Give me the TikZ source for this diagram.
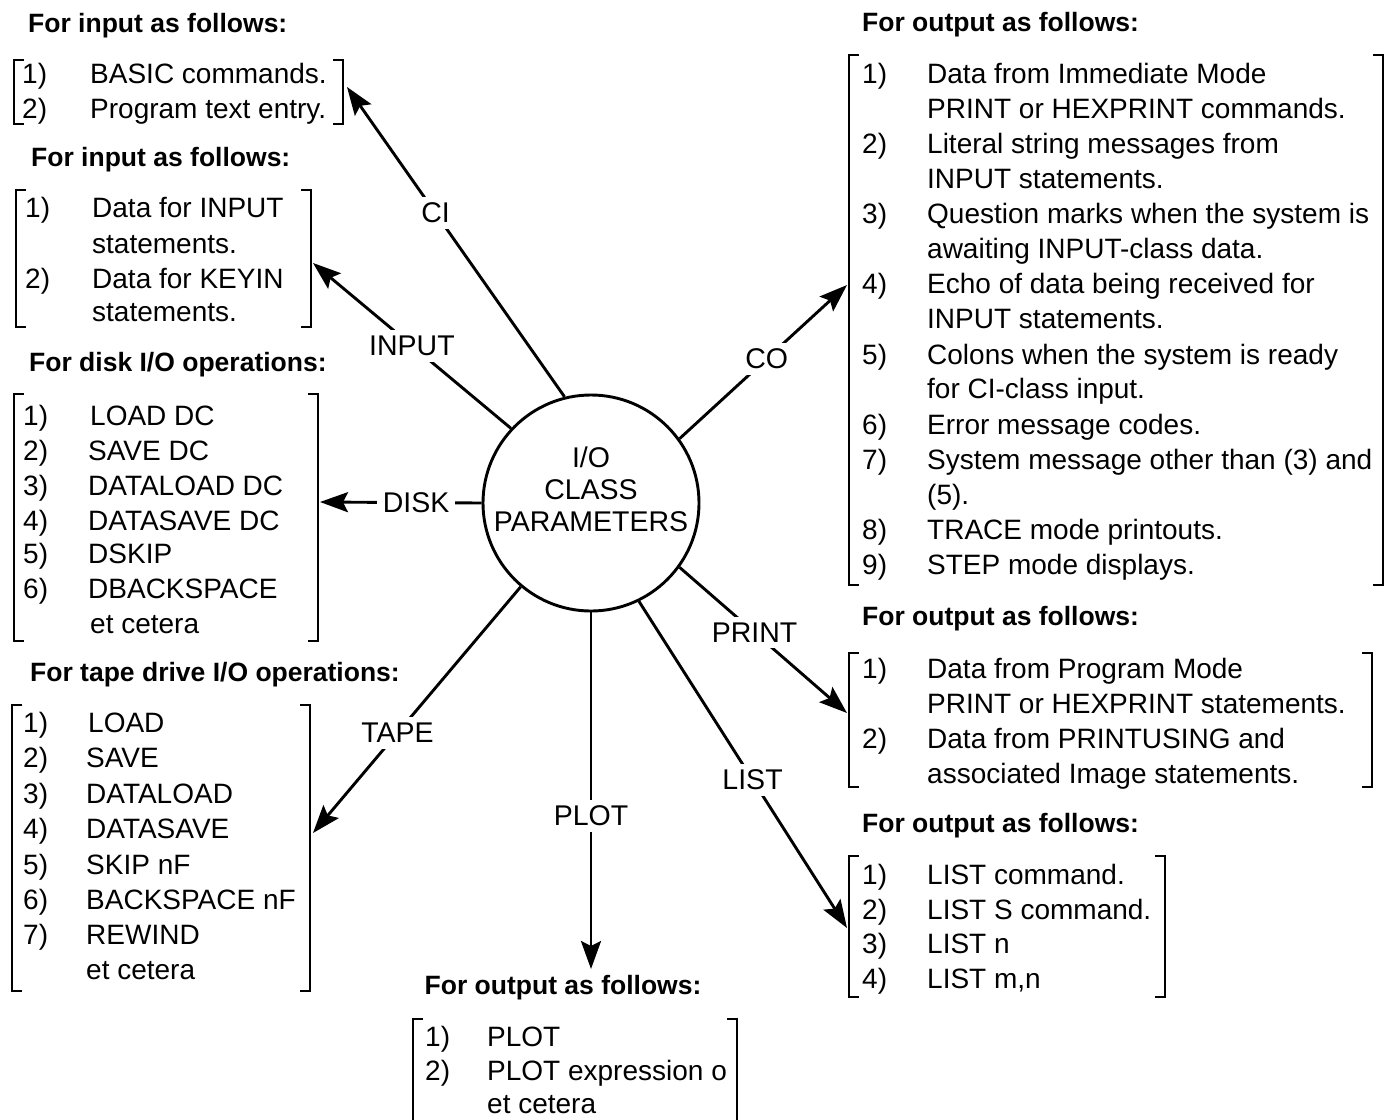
\documentclass[tikz,border=0pt]{standalone}
\usepackage{fontspec}
\setmainfont{Liberation Sans}
\usetikzlibrary{arrows.meta}
\newcommand\lbrk[3]{\draw[brk] (#1+10,#2) -- (#1,#2) -- (#1,#3) -- (#1+10,#3);}
\newcommand\rbrk[3]{\draw[brk] (#1-10,#2) -- (#1,#2) -- (#1,#3) -- (#1-10,#3);}
\newcommand\itm[6]{\node[txt] (#1n) at (#2,#4+10) {#5};\node[txt] (#1t) at (#3,#4+10) {#6};}
\newcommand\cnt[4]{\node[txt] (#1) at (#2,#3+10) {#4};}
\newcommand\hd[4]{\node[head] (#1) at (#2,#3+9.5) {#4};}
\begin{document}
\begin{tikzpicture}[x=1pt,y=-1pt,
  txt/.style={anchor=base west, inner sep=0pt, font=\fontsize{28}{34}\selectfont},
  head/.style={anchor=base west, inner sep=0pt, font=\bfseries\fontsize{26.5}{32}\selectfont},
  lbl/.style={fill=white, inner sep=6pt, font=\fontsize{28.5}{34}\selectfont},
  brk/.style={line width=2.8pt},
  conn/.style={line width=2.9pt},
  arr/.style={conn, -{Stealth[length=28pt,width=20pt,inset=5pt]}},
]
\useasboundingbox (0,0) rectangle (1391,1119);

% ---------- Box 1 ----------
\hd{h1}{28}{23}{For input as follows:}
\lbrk{14}{60}{124}\rbrk{343}{60}{124}
\itm{a1}{22}{90}{73}{1)}{BASIC commands.}
\itm{a2}{22}{90}{108}{2)}{Program text entry.}
\coordinate (tCI) at (347,87);

% ---------- Box 2 ----------
\hd{h2}{31}{157}{For input as follows:}
\lbrk{16}{190}{327}\rbrk{311}{190}{327}
\itm{b1}{25}{92}{207}{1)}{Data for INPUT}
\cnt{b1c}{92}{243}{statements.}
\itm{b2}{25}{92}{278}{2)}{Data for KEYIN}
\cnt{b2c}{92}{311}{statements.}
\coordinate (tIN) at (313,263);

% ---------- Box 3 ----------
\hd{h3}{29}{362}{For disk I/O operations:}
\lbrk{14}{394}{641}\rbrk{318}{394}{641}
\itm{c1}{23}{90}{415}{1)}{LOAD DC}
\itm{c2}{23}{88}{450}{2)}{SAVE DC}
\itm{c3}{23}{88}{485}{3)}{DATALOAD DC}
\itm{c4}{23}{88}{520}{4)}{DATASAVE DC}
\itm{c5}{23}{88}{553}{5)}{DSKIP}
\itm{c6}{23}{88}{588}{6)}{DBACKSPACE}
\cnt{c7}{90}{623}{et cetera}
\coordinate (tDI) at (320,502);

% ---------- Box 4 ----------
\hd{h4}{30}{672}{For tape drive I/O operations:}
\lbrk{12}{705}{991}\rbrk{310}{705}{991}
\itm{d1}{23}{88}{722}{1)}{LOAD}
\itm{d2}{23}{86}{757}{2)}{SAVE}
\itm{d3}{23}{86}{793}{3)}{DATALOAD}
\itm{d4}{23}{86}{828}{4)}{DATASAVE}
\itm{d5}{23}{86}{864}{5)}{SKIP nF}
\itm{d6}{23}{86}{899}{6)}{BACKSPACE nF}
\itm{d7}{23}{86}{934}{7)}{REWIND}
\cnt{d8}{86}{969}{et cetera}
\coordinate (tTA) at (313,833);

% ---------- Box 5 ----------
\node[head, anchor=base] (h5) at (563,994.5) {For output as follows:};
\lbrk{413}{1019}{1135}\rbrk{737}{1019}{1135}
\itm{e1}{425}{487}{1036}{1)}{PLOT}
\itm{e2}{425}{487}{1070}{2)}{PLOT expression o}
\cnt{e3}{487}{1103}{et cetera}
\coordinate (tPL) at (591,969);

% ---------- Box 6 ----------
\hd{h6}{862}{22}{For output as follows:}
\lbrk{849}{55}{585}\rbrk{1383}{55}{585}
\itm{f1}{862}{927}{73}{1)}{Data from Immediate Mode}
\cnt{f1c}{927}{108}{PRINT or HEXPRINT commands.}
\itm{f2}{862}{927}{143}{2)}{Literal string messages from}
\cnt{f2c}{927}{178}{INPUT statements.}
\itm{f3}{862}{927}{213}{3)}{Question marks when the system is}
\cnt{f3c}{927}{248}{awaiting INPUT-class data.}
\itm{f4}{862}{927}{283}{4)}{Echo of data being received for}
\cnt{f4c}{927}{318}{INPUT statements.}
\itm{f5}{862}{927}{354}{5)}{Colons when the system is ready}
\cnt{f5c}{927}{388}{for CI-class input.}
\itm{f6}{862}{927}{424}{6)}{Error message codes.}
\itm{f7}{862}{927}{459}{7)}{System message other than (3) and}
\cnt{f7c}{927}{494}{(5).}
\itm{f8}{862}{927}{529}{8)}{TRACE mode printouts.}
\itm{f9}{862}{927}{564}{9)}{STEP mode displays.}
\coordinate (tCO) at (847,285);

% ---------- Box 7 ----------
\hd{h7}{862}{616}{For output as follows:}
\lbrk{849}{653}{787}\rbrk{1372}{653}{787}
\itm{g1}{862}{927}{668}{1)}{Data from Program Mode}
\cnt{g1c}{927}{703}{PRINT or HEXPRINT statements.}
\itm{g2}{862}{927}{738}{2)}{Data from PRINTUSING and}
\cnt{g2c}{927}{773}{associated Image statements.}
\coordinate (tPR) at (847,713);

% ---------- Box 8 ----------
\hd{h8}{862}{823}{For output as follows:}
\lbrk{849}{856}{997}\rbrk{1165}{856}{997}
\itm{k1}{862}{927}{874}{1)}{LIST command.}
\itm{k2}{862}{927}{909}{2)}{LIST S command.}
\itm{k3}{862}{927}{943}{3)}{LIST n}
\itm{k4}{862}{927}{978}{4)}{LIST m,n}
\coordinate (tLI) at (847,928);

% ---------- Centre ----------
\node[draw, circle, line width=2.9pt, minimum size=216pt, inner sep=0pt] (c) at (591,503) {};
\node[align=center, inner sep=0pt, font=\fontsize{28.5}{32}\selectfont] (ct) at (591,489) {I/O\\CLASS\\PARAMETERS};

% ---------- Connectors ----------
\draw[arr] (c.104.5) -- node[lbl, pos=0.593] (lCI) {CI} (tCI);
\draw[arr] (c.137.5) -- node[lbl, pos=0.5] (lIN) {INPUT} (tIN);
\draw[arr] (c.180) -- node[lbl, pos=0.405] (lDI) {DISK} (tDI);
\draw[arr] (c.230) -- node[lbl, pos=0.593] (lTA) {TAPE} (tTA);
\draw[arr] (c.270) -- node[lbl, pos=0.571] (lPL) {PLOT} (tPL);
\draw[arr] (c.296) -- node[lbl, pos=0.546] (lLI) {LIST} (tLI);
\draw[arr] (c.324) -- node[lbl, pos=0.448] (lPR) {PRINT} (tPR);
\draw[arr] (c.36.9) -- node[lbl, pos=0.52] (lCO) {CO} (tCO);
\end{tikzpicture}
\end{document}
